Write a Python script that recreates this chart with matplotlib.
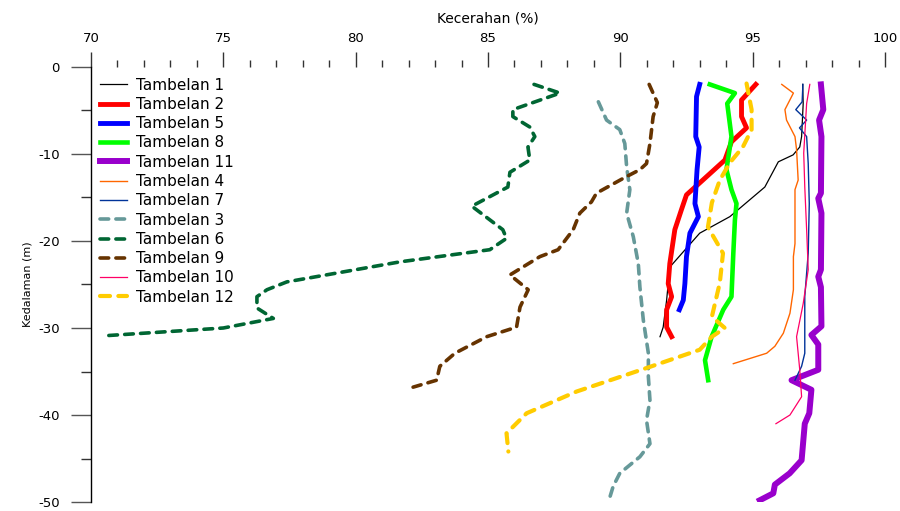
# Kecerahan vs kedalaman, stasiun Tambelan
import matplotlib.pyplot as plt
from matplotlib.ticker import MultipleLocator

plt.rcParams['font.family'] = ['DejaVu Sans']
plt.rcParams['axes.unicode_minus'] = False

# data (kecerahan %, kedalaman m)
t1_x = [96.89, 96.91, 96.85, 96.78, 96.53, 95.97, 95.46, 94.14, 93.0, 91.87, 91.75, 91.62, 91.5]
t1_y = [-2.0, -4.2, -8.0, -9.2, -10.1, -10.9, -13.8, -17.2, -19.1, -23.0, -26.8, -29.9, -31.0]

t2_x = [95.12, 94.58, 94.58, 94.77, 94.2, 93.95, 92.5, 92.31, 92.06, 91.87, 91.81, 91.94, 91.75, 91.75, 91.94]
t2_y = [-2.0, -3.8, -5.7, -7.0, -8.6, -10.7, -14.7, -16.4, -18.7, -22.6, -24.9, -26.4, -27.9, -29.9, -31.0]

t5_x = [93.0, 92.88, 92.85, 92.98, 92.9, 92.82, 92.95, 92.63, 92.5, 92.44, 92.38, 92.23]
t5_y = [-2.0, -3.4, -8.0, -9.2, -11.8, -15.7, -17.2, -19.1, -21.8, -24.9, -26.8, -27.9]

t8_x = [93.38, 94.33, 94.04, 94.2, 94.01, 94.2, 94.39, 94.33, 94.27, 94.2, 93.89, 93.45, 93.2, 93.32]
t8_y = [-2.0, -3.0, -4.2, -8.0, -11.8, -14.1, -15.7, -17.6, -21.4, -26.4, -27.9, -31.0, -33.7, -36.0]

t11_x = [97.58, 97.67, 97.51, 97.6, 97.58, 97.48, 97.6, 97.58, 97.48, 97.58, 97.6, 97.22, 97.48, 97.48,
         96.47, 97.22, 97.14, 96.97, 96.85, 96.4, 95.84, 95.78, 95.27]
t11_y = [-2.0, -4.9, -6.1, -8.0, -14.5, -15.1, -16.8, -23.3, -24.1, -25.3, -29.8, -30.8, -31.9, -34.8,
         -36.0, -37.1, -39.8, -41.0, -45.2, -46.7, -48.0, -49.0, -49.8]

t4_x = [96.1, 96.54, 96.22, 96.28, 96.6, 96.66, 96.72, 96.6, 96.6, 96.54, 96.54, 96.41, 96.16, 95.84, 95.53, 94.27]
t4_y = [-2.0, -3.0, -4.9, -6.1, -8.0, -9.5, -13.0, -14.1, -20.3, -21.8, -25.6, -28.3, -30.6, -32.1, -32.9, -34.1]

t7_x = [96.9, 96.87, 96.63, 97.04, 96.77, 97.04, 97.1, 97.14, 97.1, 96.97, 96.97, 96.85, 96.6]
t7_y = [-2.0, -4.0, -4.9, -6.1, -7.0, -8.0, -11.1, -15.7, -21.4, -26.4, -32.9, -34.4, -36.0]

t3_x = [89.17, 89.48, 89.98, 90.17, 90.24, 90.36, 90.24, 90.49, 90.68, 90.74, 90.87, 91.06, 91.06,
        91.12, 90.99, 91.12, 90.74, 89.98, 89.73, 89.55]
t3_y = [-4.0, -6.1, -7.2, -8.8, -11.5, -14.1, -16.8, -19.5, -22.6, -25.3, -29.1, -32.9, -35.6,
        -38.3, -40.6, -43.3, -44.8, -46.7, -48.2, -50.0]

t6_x = [86.74, 87.72, 85.94, 85.94, 86.58, 86.77, 86.51, 86.58, 85.83, 85.75, 84.39, 85.56, 85.7,
        85.07, 81.67, 77.4, 76.65, 76.27, 76.27, 76.89, 75.0, 70.47]
t6_y = [-2.0, -3.0, -4.9, -5.7, -6.9, -8.0, -9.2, -10.7, -12.1, -13.8, -16.0, -18.7, -19.7,
        -21.0, -22.4, -24.7, -25.6, -26.4, -27.7, -28.9, -30.0, -30.9]

t9_x = [91.09, 91.4, 91.24, 91.12, 90.99, 90.74, 90.17, 89.1, 88.91, 88.47, 88.22, 87.65, 86.96,
        85.83, 86.52, 86.21, 86.08, 84.95, 83.75, 83.18, 83.06, 82.17]
t9_y = [-2.0, -4.1, -5.7, -8.8, -11.1, -11.8, -12.7, -14.5, -15.5, -16.8, -18.7, -21.0, -21.8,
        -23.9, -25.6, -27.6, -29.9, -31.0, -32.9, -34.4, -36.0, -36.8]

t10_x = [97.16, 97.04, 96.93, 96.97, 97.04, 97.1, 96.91, 96.66, 96.78, 96.85, 96.41, 95.88]
t10_y = [-2.0, -4.2, -9.9, -13.8, -18.7, -23.3, -27.2, -31.0, -34.8, -37.9, -40.0, -41.0]

t12_x = [94.77, 94.96, 94.96, 94.63, 94.14, 93.76, 93.46, 93.31, 93.88, 93.76, 93.46, 93.95, 93.46,
         93.0, 90.99, 88.35, 86.46, 85.7, 85.77]
t12_y = [-1.9, -4.9, -7.2, -9.2, -11.0, -13.0, -15.6, -18.4, -21.4, -24.8, -28.7, -30.0, -31.0,
         -32.5, -34.6, -37.3, -39.8, -42.1, -44.2]

fig = plt.figure(figsize=(9, 5.11), dpi=100)
ax = fig.add_axes([0.1011, 0.0176, 0.8822, 0.8513])

# garis solid
ax.plot(t1_x, t1_y, color='black', lw=0.9, label='Tambelan 1')
ax.plot(t2_x, t2_y, color='#FF0000', lw=3.5, label='Tambelan 2')
ax.plot(t5_x, t5_y, color='#0000FF', lw=3.5, label='Tambelan 5')
ax.plot(t8_x, t8_y, color='#00FF00', lw=3.3, label='Tambelan 8')
ax.plot(t11_x, t11_y, color='#9900CC', lw=4.3, label='Tambelan 11')
ax.plot(t4_x, t4_y, color='#FF6600', lw=1.0, label='Tambelan 4')
ax.plot(t7_x, t7_y, color='#003399', lw=1.0, label='Tambelan 7')
# garis putus-putus
ax.plot(t3_x, t3_y, color='#669999', lw=2.6, dashes=(2.4, 2.0), dash_capstyle='round', label='Tambelan 3')
ax.plot(t6_x, t6_y, color='#006633', lw=2.6, dashes=(2.4, 2.0), dash_capstyle='round', label='Tambelan 6')
ax.plot(t9_x, t9_y, color='#663300', lw=2.6, dashes=(2.4, 2.0), dash_capstyle='round', label='Tambelan 9')
ax.plot(t10_x, t10_y, color='#FF0066', lw=0.9, label='Tambelan 10')
ax.plot(t12_x, t12_y, color='#FFCC00', lw=3.0, dashes=(2.4, 2.0), dash_capstyle='round', label='Tambelan 12')

ax.set_xlim(70, 100)
ax.set_ylim(-50, 0)

ax.xaxis.tick_top()
ax.xaxis.set_label_position('top')
ax.xaxis.set_major_locator(MultipleLocator(5))
ax.xaxis.set_minor_locator(MultipleLocator(1))
ax.yaxis.set_major_locator(MultipleLocator(10))
ax.yaxis.set_minor_locator(MultipleLocator(5))

for s in ['top', 'right', 'bottom']:
    ax.spines[s].set_visible(False)
ax.spines['left'].set_linewidth(1.0)

ax.tick_params(axis='x', which='major', length=11, width=1.0, color='#333333', pad=5, labelsize=9.5)
ax.tick_params(axis='x', which='minor', length=5, width=1.0, color='#333333')
ax.tick_params(axis='y', which='major', length=14.5, width=1.0, color='#555555', pad=8, labelsize=9.5)
ax.tick_params(axis='y', which='minor', length=7, width=1.0, color='#333333')

ax.set_xlabel('Kecerahan (%)', fontsize=10, labelpad=7)
ax.set_ylabel('Kedalaman (m)', fontsize=8, labelpad=4)

ax.legend(loc='upper left', bbox_to_anchor=(0.005, 0.986), borderaxespad=0, frameon=False,
          fontsize=11, handlelength=1.8, handletextpad=0.6, labelspacing=0.28, borderpad=0.3)

plt.savefig('out.png', dpi=100)
